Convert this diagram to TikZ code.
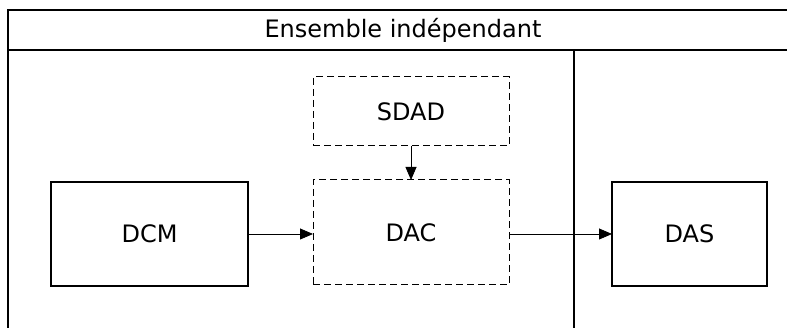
\documentclass[tikz,border=0pt]{standalone}
\usepackage{fontspec}
\setmainfont{DejaVu Sans}
\usetikzlibrary{arrows.meta,positioning}

\begin{document}
\begin{tikzpicture}[x=1pt,y=-1pt,
    bloc/.style={draw, line width=1.2pt, outer sep=0pt, minimum width=197pt, minimum height=104pt, font=\fontsize{24}{28}\selectfont},
    optionnel/.style={bloc, line width=1pt, dash pattern=on 7pt off 4pt},
    fleche/.style={-{Triangle[length=13pt,width=11pt]}, line width=0.8pt}]
    \clip (0,0) rectangle (787,328);

    % Cadre
    \draw[line width=1.6pt] (8,340) -- (8,10) -- (800,10);
    \draw[line width=1.6pt] (8,50) -- (800,50);
    \draw[line width=1.6pt] (574,50) -- (574,340);
    \node[font=\fontsize{24}{28}\selectfont] (titre) at (403,30) {Ensemble indépendant};

    % Blocs
    \node[bloc] (dcm) at (149.5,234) {DCM};
    \node[optionnel, minimum height=105pt, minimum width=196pt] (dac) at (411,232.5) {DAC};
    \node[optionnel, minimum height=69pt, minimum width=196pt] (sdad) at (411,111.5) {SDAD};
    \node[bloc, minimum width=155pt] (das) at (689.5,234) {DAS};

    % Liaisons
    \draw[fleche] (dcm.east) -- (dcm.east -| dac.west);
    \draw[fleche] (sdad.south) -- (dac.north);
    \draw[fleche] (dac.east |- dcm.east) -- (das.west);
\end{tikzpicture}
\end{document}
